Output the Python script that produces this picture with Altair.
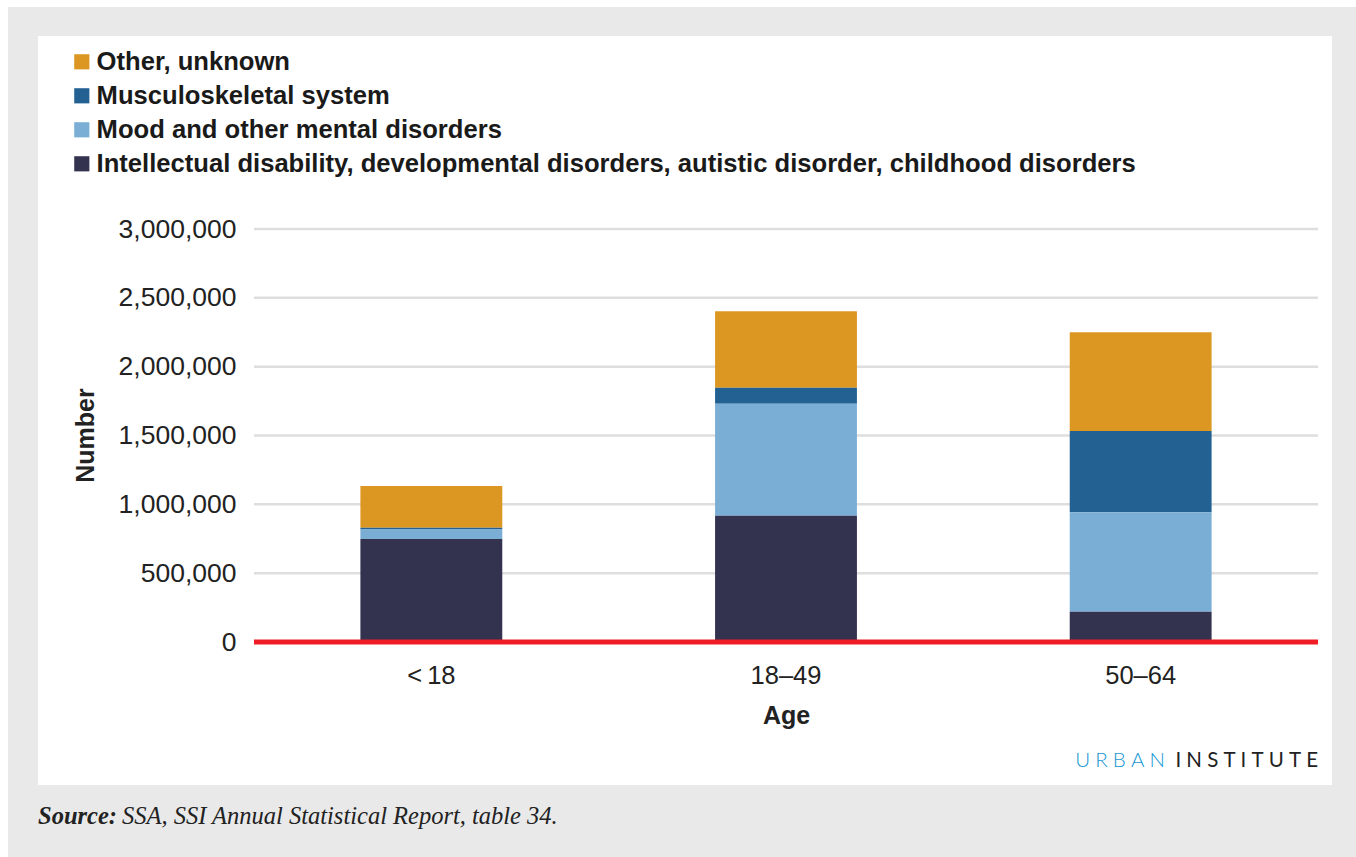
import altair as alt
import pandas as pd

# Age groups on the x axis
ages = ["<\u200918", "18\u201349", "50\u201364"]

# Diagnostic groups, listed top to bottom as in the legend
categories = [
    "Other, unknown",
    "Musculoskeletal system",
    "Mood and other mental disorders",
    "Intellectual disability, developmental disorders, autistic disorder, childhood disorders",
]
colors = ["#dc9723", "#236192", "#7aaed5", "#333350"]

# Recipients by diagnostic group, per age group
other = [303000, 555000, 717000]
musculoskeletal = [12000, 116000, 591000]
mood = [70000, 814000, 722000]
intellectual = [748000, 917000, 220000]

y_ticks = [0, 500000, 1000000, 1500000, 2000000, 2500000, 3000000]
grid_ticks = y_ticks[1:]

series = [other, musculoskeletal, mood, intellectual]
rows = []
for cat, vals in zip(categories, series):
    for age, v in zip(ages, vals):
        rows.append({"age": age, "group": cat, "value": v,
                     "stack": 3 - categories.index(cat)})
df = pd.DataFrame(rows)

FONT = "Liberation Sans"
W, H = 1064, 413
PAD = {"left": 254, "top": 229, "right": 38, "bottom": 215}

one = pd.DataFrame({"k": [0]})

# Page frame: grey band and white panel
frame = alt.Chart(one).mark_rect(color="#e9e9e9").encode(
    x=alt.value(8 - PAD["left"]), x2=alt.value(1356 - PAD["left"]),
    y=alt.value(7 - PAD["top"]), y2=alt.value(857 - PAD["top"]),
)
panel = alt.Chart(one).mark_rect(color="#ffffff").encode(
    x=alt.value(38 - PAD["left"]), x2=alt.value(1332 - PAD["left"]),
    y=alt.value(36 - PAD["top"]), y2=alt.value(785 - PAD["top"]),
)

yscale = alt.Scale(domain=[0, 3000000])

grid = alt.Chart(pd.DataFrame({"v": grid_ticks})).mark_rule(
    color="#dedede", strokeWidth=2.5
).encode(y=alt.Y("v:Q", scale=yscale))

bars = alt.Chart(df).mark_bar().encode(
    x=alt.X(
        "age:N", sort=ages,
        scale=alt.Scale(paddingInner=0.6, paddingOuter=0.3),
        axis=alt.Axis(
            title="Age", labelAngle=0, labelFontSize=25.5, labelColor="#222222",
            labelFont=FONT, labelPadding=21, ticks=False, domain=False,
            titleFont=FONT, titleFontSize=25, titleFontWeight="bold",
            titleColor="#222222", titleBaseline="alphabetic", titleY=81,
            zindex=1,
        ),
    ),
    y=alt.Y(
        "value:Q", stack="zero", scale=yscale,
        axis=alt.Axis(
            title="Number", values=y_ticks, format=",d", grid=False,
            ticks=False, domain=False, labelFontSize=26.5, labelColor="#222222",
            labelFont=FONT, labelPadding=18,
            titleFont=FONT, titleFontSize=25, titleFontWeight="bold",
            titleColor="#222222", titleBaseline="alphabetic",
            titleX=93 - PAD["left"], titleY=206, zindex=1,
        ),
    ),
    color=alt.Color(
        "group:N",
        scale=alt.Scale(domain=categories, range=colors),
        legend=alt.Legend(
            title=None, orient="none", legendX=69 - PAD["left"],
            legendY=49 - PAD["top"], symbolType="square", symbolSize=230,
            symbolStrokeWidth=0, symbolOpacity=1, labelFont=FONT,
            labelFontSize=25.6, labelFontWeight="bold", labelColor="#1a1a1a",
            labelLimit=1300, labelOffset=2, rowPadding=7, padding=0,
            zindex=1,
        ),
    ),
    order=alt.Order("stack:Q", sort="ascending"),
)

baseline = alt.Chart(pd.DataFrame({"v": [0]})).mark_rule(
    color="#ee1c25", strokeWidth=5
).encode(y=alt.Y("v:Q", scale=yscale))

spaced = "\u2005"
urban = alt.Chart(one).mark_text(
    text=spaced.join("URBAN"), font="Lato", fontWeight=300, fontSize=20.5,
    color="#1696d2", align="right", baseline="alphabetic",
).encode(x=alt.value(1165 - PAD["left"]), y=alt.value(767 - PAD["top"]))
institute = alt.Chart(one).mark_text(
    text=spaced.join("INSTITUTE"), font="Lato", fontWeight=400, fontSize=20.5,
    color="#222222", align="right", baseline="alphabetic",
).encode(x=alt.value(1318 - PAD["left"]), y=alt.value(767 - PAD["top"]))

source_label = alt.Chart(one).mark_text(
    text="Source:", font="Liberation Serif", fontStyle="italic",
    fontWeight="bold", fontSize=24.5, color="#222222", align="left",
    baseline="alphabetic",
).encode(x=alt.value(38 - PAD["left"]), y=alt.value(824 - PAD["top"]))
source_text = alt.Chart(one).mark_text(
    text="SSA, SSI Annual Statistical Report, table 34.",
    font="Liberation Serif", fontStyle="italic", fontSize=24.5,
    color="#222222", align="left", baseline="alphabetic",
).encode(x=alt.value(122 - PAD["left"]), y=alt.value(824 - PAD["top"]))

chart = alt.layer(
    frame, panel, grid, bars, baseline, urban, institute,
    source_label, source_text,
).resolve_axis(y="shared").properties(
    width=W, height=H, padding=PAD,
    autosize=alt.AutoSizeParams(type="none"),
).configure(font=FONT, background="#ffffff").configure_view(stroke=None)

chart.save("out.html", embed_options={"renderer": "svg", "actions": False})
